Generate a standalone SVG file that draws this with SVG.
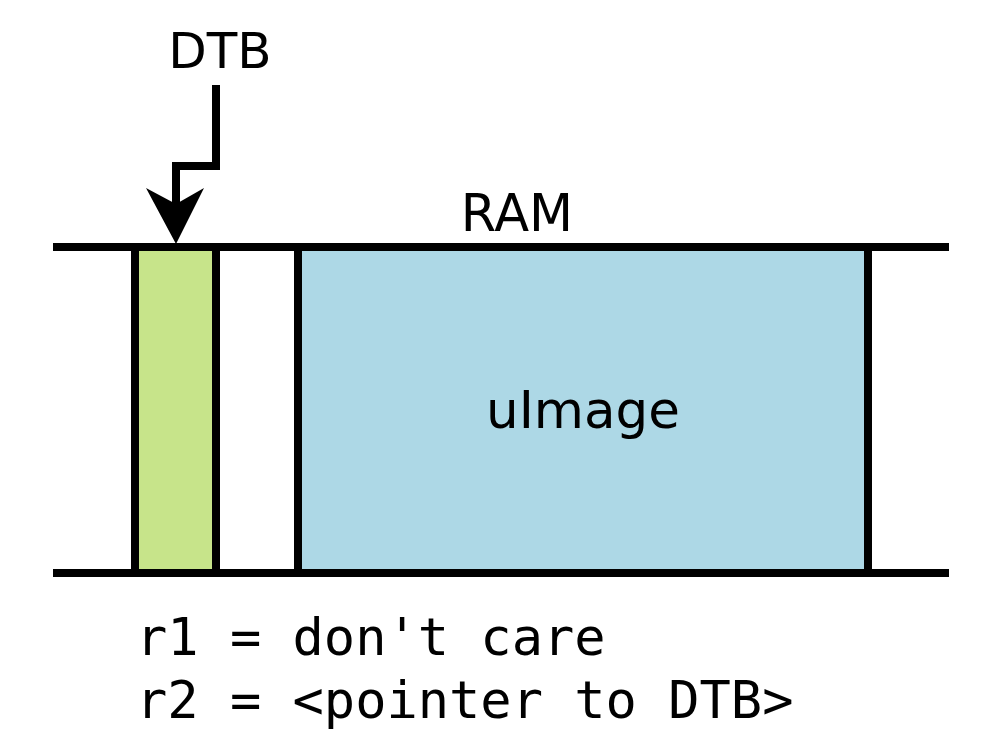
<svg xmlns="http://www.w3.org/2000/svg" width="1007" height="755" viewBox="0 0 1007 755">
<style>
.s{stroke:#000;stroke-width:8;fill:none}
.t{font-family:"DejaVu Sans",sans-serif;fill:#000;text-anchor:middle}
.m{font-family:"DejaVu Sans Mono",monospace;fill:#000;font-size:52px}
</style>
<rect width="1007" height="755" fill="#fff"/>
<g id="dtb-block"><rect x="135" y="247" width="81" height="326" class="s" style="fill:#c7e48a"/></g>
<g id="uimage"><rect x="298" y="247" width="570" height="326" class="s" style="fill:#add8e6"/>
<text class="t" x="583" y="428" font-size="51.5">uImage</text></g>
<g id="ram"><line class="s" x1="53" y1="247" x2="949" y2="247"/><line class="s" x1="53" y1="573" x2="949" y2="573"/>
<text class="t" x="517" y="231" font-size="51">RAM</text></g>
<g id="dtb-label"><text class="t" x="220" y="68" font-size="50">DTB</text></g>
<g id="connectors">
<path class="s" d="M216 85V166H176V205"/>
<path d="M176 244L146 188L176 204L204 188Z" fill="#000"/>
</g>
<g id="notes">
<text class="m" x="136" y="655">r1 = don't care</text>
<text class="m" x="136" y="718">r2 = &lt;pointer to DTB&gt;</text>
</g>
</svg>
